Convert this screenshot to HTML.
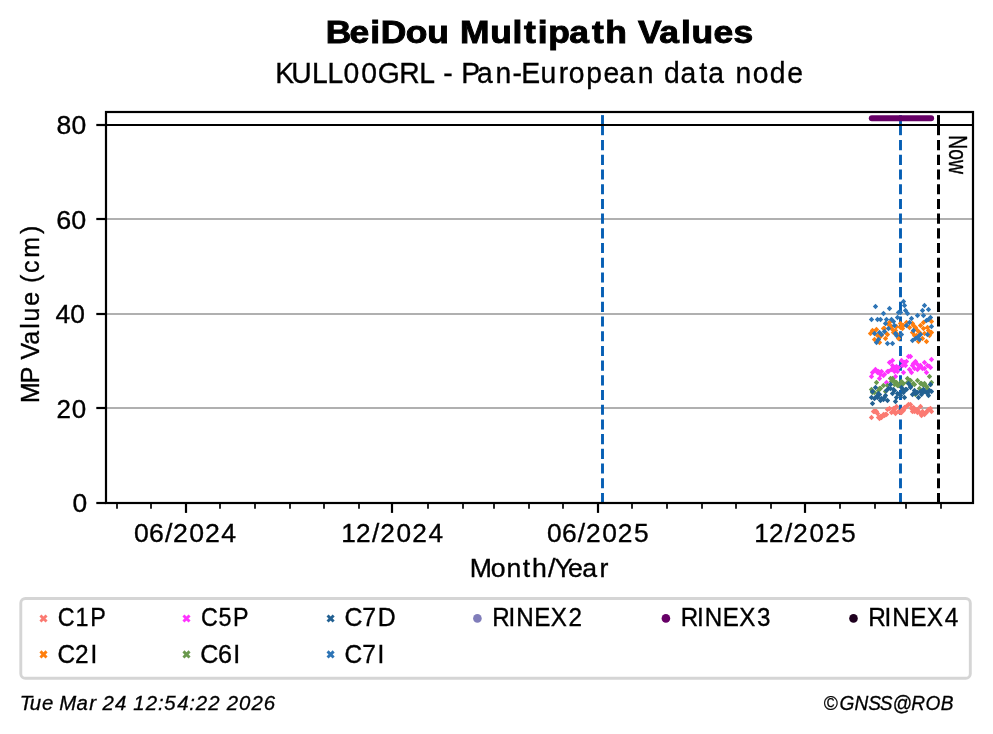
<!DOCTYPE html>
<html><head><meta charset="utf-8"><title>BeiDou Multipath Values</title>
<style>html,body{margin:0;padding:0;background:#fff;}body{width:993px;height:734px;overflow:hidden;font-family:"Liberation Sans",sans-serif;}svg{display:block;}text{font-family:"Liberation Sans",sans-serif;fill:#000;}svg{will-change:transform;}</style>
</head><body>
<svg width="993" height="734" viewBox="0 0 993 734">
<rect x="0" y="0" width="993" height="734" fill="#ffffff"/>
<text transform="translate(329.65,42.65) scale(1.1587,1)" x="-3.42 17.18 35.10 44.02 65.65 84.18 102.92 112.60 138.69 157.71 167.68 179.58 188.70 206.75 226.32 237.95 256.76 266.09 284.54 303.28 312.21 331.27 348.49" y="0" font-size="30.56" font-weight="bold" font-style="normal" stroke="#000" stroke-width="0.9" >BeiDou Multipath Values</text>
<text transform="translate(277.60,82.85) scale(0.9441,1)" x="-2.56 14.46 36.50 52.92 69.91 88.71 106.07 128.95 149.97 165.90 175.60 185.89 194.65 211.27 230.75 248.69 258.22 278.59 297.92 308.43 326.89 345.07 361.94 381.43 399.06 409.26 426.69 446.68 456.21 474.66 485.10 503.32 521.40 539.96" y="0" font-size="30.00" font-weight="normal" font-style="normal" stroke="#000" stroke-width="0.35" >KULL00GRL - Pan-European data node</text>
<line x1="106" x2="973" y1="408.00" y2="408.00" stroke="#b0b0b0" stroke-width="2.2"/>
<line x1="106" x2="973" y1="314.00" y2="314.00" stroke="#b0b0b0" stroke-width="2.2"/>
<line x1="106" x2="973" y1="219.00" y2="219.00" stroke="#b0b0b0" stroke-width="2.2"/>
<line x1="602.5" x2="602.5" y1="115.1" y2="135.2" stroke="#055eb4" stroke-width="2.9"/>
<line x1="602.5" x2="602.5" y1="140.1" y2="503" stroke="#055eb4" stroke-width="2.9" stroke-dasharray="10.1 4.6"/>
<line x1="900.5" x2="900.5" y1="115.1" y2="135.2" stroke="#055eb4" stroke-width="2.9"/>
<line x1="900.5" x2="900.5" y1="140.1" y2="503" stroke="#055eb4" stroke-width="2.9" stroke-dasharray="10.1 4.6"/>
<path d="M871.5 414.8L874.2 417.5L871.5 420.2L868.8 417.5ZM873.5 408.8L876.2 411.5L873.5 414.2L870.8 411.5ZM876.5 408.8L879.2 411.5L876.5 414.2L873.8 411.5ZM877.5 410.8L880.2 413.5L877.5 416.2L874.8 413.5ZM879.5 415.8L882.2 418.5L879.5 421.2L876.8 418.5ZM881.5 414.8L884.2 417.5L881.5 420.2L878.8 417.5ZM884.5 412.8L887.2 415.5L884.5 418.2L881.8 415.5ZM886.5 411.8L889.2 414.5L886.5 417.2L883.8 414.5ZM887.5 406.8L890.2 409.5L887.5 412.2L884.8 409.5ZM889.5 405.8L892.2 408.5L889.5 411.2L886.8 408.5ZM891.5 409.8L894.2 412.5L891.5 415.2L888.8 412.5ZM893.5 405.8L896.2 408.5L893.5 411.2L890.8 408.5ZM895.5 410.8L898.2 413.5L895.5 416.2L892.8 413.5ZM896.5 403.8L899.2 406.5L896.5 409.2L893.8 406.5ZM898.5 408.8L901.2 411.5L898.5 414.2L895.8 411.5ZM900.5 409.8L903.2 412.5L900.5 415.2L897.8 412.5ZM902.5 406.8L905.2 409.5L902.5 412.2L899.8 409.5ZM904.5 404.8L907.2 407.5L904.5 410.2L901.8 407.5ZM906.5 403.8L909.2 406.5L906.5 409.2L903.8 406.5ZM908.5 401.8L911.2 404.5L908.5 407.2L905.8 404.5ZM910.5 401.8L913.2 404.5L910.5 407.2L907.8 404.5ZM912.5 408.8L915.2 411.5L912.5 414.2L909.8 411.5ZM914.5 408.8L917.2 411.5L914.5 414.2L911.8 411.5ZM917.5 406.8L920.2 409.5L917.5 412.2L914.8 409.5ZM917.5 409.8L920.2 412.5L917.5 415.2L914.8 412.5ZM920.5 403.8L923.2 406.5L920.5 409.2L917.8 406.5ZM921.5 412.8L924.2 415.5L921.5 418.2L918.8 415.5ZM923.5 409.8L926.2 412.5L923.5 415.2L920.8 412.5ZM926.5 409.8L929.2 412.5L926.5 415.2L923.8 412.5ZM928.5 406.8L931.2 409.5L928.5 412.2L925.8 409.5ZM930.5 405.8L933.2 408.5L930.5 411.2L927.8 408.5ZM931.5 408.8L934.2 411.5L931.5 414.2L928.8 411.5ZM874.5 408.8L877.2 411.5L874.5 414.2L871.8 411.5ZM875.5 408.8L878.2 411.5L875.5 414.2L872.8 411.5ZM878.5 414.8L881.2 417.5L878.5 420.2L875.8 417.5ZM880.5 413.8L883.2 416.5L880.5 419.2L877.8 416.5ZM883.5 411.8L886.2 414.5L883.5 417.2L880.8 414.5ZM885.5 411.8L888.2 414.5L885.5 417.2L882.8 414.5ZM892.5 408.8L895.2 411.5L892.5 414.2L889.8 411.5ZM894.5 406.8L897.2 409.5L894.5 412.2L891.8 409.5ZM901.5 409.8L904.2 412.5L901.5 415.2L898.8 412.5ZM903.5 407.8L906.2 410.5L903.5 413.2L900.8 410.5ZM905.5 404.8L908.2 407.5L905.5 410.2L902.8 407.5ZM911.5 405.8L914.2 408.5L911.5 411.2L908.8 408.5ZM913.5 404.8L916.2 407.5L913.5 410.2L910.8 407.5ZM915.5 407.8L918.2 410.5L915.5 413.2L912.8 410.5ZM919.5 409.8L922.2 412.5L919.5 415.2L916.8 412.5ZM922.5 408.8L925.2 411.5L922.5 414.2L919.8 411.5ZM924.5 411.8L927.2 414.5L924.5 417.2L921.8 414.5ZM927.5 407.8L930.2 410.5L927.5 413.2L924.8 410.5ZM929.5 406.8L932.2 409.5L929.5 412.2L926.8 409.5Z" fill="#fb7a72"/>
<path d="M872.5 327.8L875.2 330.5L872.5 333.2L869.8 330.5ZM876.5 326.8L879.2 329.5L876.5 332.2L873.8 329.5ZM870.5 330.8L873.2 333.5L870.5 336.2L867.8 333.5ZM874.5 336.8L877.2 339.5L874.5 342.2L871.8 339.5ZM879.5 339.8L882.2 342.5L879.5 345.2L876.8 342.5ZM879.5 332.8L882.2 335.5L879.5 338.2L876.8 335.5ZM883.5 325.8L886.2 328.5L883.5 331.2L880.8 328.5ZM885.5 335.8L888.2 338.5L885.5 341.2L882.8 338.5ZM887.5 331.8L890.2 334.5L887.5 337.2L884.8 334.5ZM889.5 319.8L892.2 322.5L889.5 325.2L886.8 322.5ZM888.5 321.8L891.2 324.5L888.5 327.2L885.8 324.5ZM892.5 326.8L895.2 329.5L892.5 332.2L889.8 329.5ZM895.5 327.8L898.2 330.5L895.5 333.2L892.8 330.5ZM897.5 331.8L900.2 334.5L897.5 337.2L894.8 334.5ZM898.5 335.8L901.2 338.5L898.5 341.2L895.8 338.5ZM900.5 320.8L903.2 323.5L900.5 326.2L897.8 323.5ZM903.5 322.8L906.2 325.5L903.5 328.2L900.8 325.5ZM902.5 325.8L905.2 328.5L902.5 331.2L899.8 328.5ZM906.5 319.8L909.2 322.5L906.5 325.2L903.8 322.5ZM912.5 320.8L915.2 323.5L912.5 326.2L909.8 323.5ZM913.5 322.8L916.2 325.5L913.5 328.2L910.8 325.5ZM909.5 324.8L912.2 327.5L909.5 330.2L906.8 327.5ZM912.5 329.8L915.2 332.5L912.5 335.2L909.8 332.5ZM914.5 332.8L917.2 335.5L914.5 338.2L911.8 335.5ZM917.5 327.8L920.2 330.5L917.5 333.2L914.8 330.5ZM920.5 322.8L923.2 325.5L920.5 328.2L917.8 325.5ZM923.5 319.8L926.2 322.5L923.5 325.2L920.8 322.5ZM931.5 318.8L934.2 321.5L931.5 324.2L928.8 321.5ZM923.5 325.8L926.2 328.5L923.5 331.2L920.8 328.5ZM927.5 324.8L930.2 327.5L927.5 330.2L924.8 327.5ZM928.5 327.8L931.2 330.5L928.5 333.2L925.8 330.5ZM931.5 329.8L934.2 332.5L931.5 335.2L928.8 332.5ZM929.5 332.8L932.2 335.5L929.5 338.2L926.8 335.5ZM926.5 338.8L929.2 341.5L926.5 344.2L923.8 341.5ZM922.5 335.8L925.2 338.5L922.5 341.2L919.8 338.5ZM918.5 338.8L921.2 341.5L918.5 344.2L915.8 341.5ZM924.5 330.8L927.2 333.5L924.5 336.2L921.8 333.5ZM872.5 327.8L875.2 330.5L872.5 333.2L869.8 330.5ZM875.5 327.8L878.2 330.5L875.5 333.2L872.8 330.5ZM877.5 332.8L880.2 335.5L877.5 338.2L874.8 335.5ZM880.5 333.8L883.2 336.5L880.5 339.2L877.8 336.5ZM881.5 332.8L884.2 335.5L881.5 338.2L878.8 335.5ZM884.5 325.8L887.2 328.5L884.5 331.2L881.8 328.5ZM886.5 330.8L889.2 333.5L886.5 336.2L883.8 333.5ZM891.5 323.8L894.2 326.5L891.5 329.2L888.8 326.5ZM893.5 329.8L896.2 332.5L893.5 335.2L890.8 332.5ZM894.5 329.8L897.2 332.5L894.5 335.2L891.8 332.5ZM896.5 323.8L899.2 326.5L896.5 329.2L893.8 326.5ZM900.5 324.8L903.2 327.5L900.5 330.2L897.8 327.5ZM915.5 324.8L918.2 327.5L915.5 330.2L912.8 327.5ZM916.5 332.8L919.2 335.5L916.5 338.2L913.8 335.5ZM919.5 329.8L922.2 332.5L919.5 335.2L916.8 332.5Z" fill="#ff7f0e"/>
<path d="M871.5 373.8L874.2 376.5L871.5 379.2L868.8 376.5ZM875.5 366.8L878.2 369.5L875.5 372.2L872.8 369.5ZM878.5 368.8L881.2 371.5L878.5 374.2L875.8 371.5ZM881.5 368.8L884.2 371.5L881.5 374.2L878.8 371.5ZM879.5 375.8L882.2 378.5L879.5 381.2L876.8 378.5ZM883.5 372.8L886.2 375.5L883.5 378.2L880.8 375.5ZM886.5 379.8L889.2 382.5L886.5 385.2L883.8 382.5ZM888.5 368.8L891.2 371.5L888.5 374.2L885.8 371.5ZM884.5 371.8L887.2 374.5L884.5 377.2L881.8 374.5ZM889.5 359.8L892.2 362.5L889.5 365.2L886.8 362.5ZM892.5 357.8L895.2 360.5L892.5 363.2L889.8 360.5ZM892.5 362.8L895.2 365.5L892.5 368.2L889.8 365.5ZM895.5 366.8L898.2 369.5L895.5 372.2L892.8 369.5ZM895.5 373.8L898.2 376.5L895.5 379.2L892.8 376.5ZM897.5 368.8L900.2 371.5L897.5 374.2L894.8 371.5ZM898.5 364.8L901.2 367.5L898.5 370.2L895.8 367.5ZM901.5 357.8L904.2 360.5L901.5 363.2L898.8 360.5ZM902.5 362.8L905.2 365.5L902.5 368.2L899.8 365.5ZM903.5 369.8L906.2 372.5L903.5 375.2L900.8 372.5ZM905.5 362.8L908.2 365.5L905.5 368.2L902.8 365.5ZM906.5 358.8L909.2 361.5L906.5 364.2L903.8 361.5ZM908.5 353.8L911.2 356.5L908.5 359.2L905.8 356.5ZM910.5 353.8L913.2 356.5L910.5 359.2L907.8 356.5ZM909.5 366.8L912.2 369.5L909.5 372.2L906.8 369.5ZM912.5 362.8L915.2 365.5L912.5 368.2L909.8 365.5ZM911.5 369.8L914.2 372.5L911.5 375.2L908.8 372.5ZM914.5 365.8L917.2 368.5L914.5 371.2L911.8 368.5ZM915.5 358.8L918.2 361.5L915.5 364.2L912.8 361.5ZM918.5 362.8L921.2 365.5L918.5 368.2L915.8 365.5ZM917.5 366.8L920.2 369.5L917.5 372.2L914.8 369.5ZM920.5 362.8L923.2 365.5L920.5 368.2L917.8 365.5ZM924.5 359.8L927.2 362.5L924.5 365.2L921.8 362.5ZM922.5 365.8L925.2 368.5L922.5 371.2L919.8 368.5ZM926.5 369.8L929.2 372.5L926.5 375.2L923.8 372.5ZM927.5 362.8L930.2 365.5L927.5 368.2L924.8 365.5ZM930.5 364.8L933.2 367.5L930.5 370.2L927.8 367.5ZM931.5 356.8L934.2 359.5L931.5 362.2L928.8 359.5ZM872.5 369.8L875.2 372.5L872.5 375.2L869.8 372.5ZM874.5 367.8L877.2 370.5L874.5 373.2L871.8 370.5ZM876.5 368.8L879.2 371.5L876.5 374.2L873.8 371.5ZM877.5 369.8L880.2 372.5L877.5 375.2L874.8 372.5ZM880.5 371.8L883.2 374.5L880.5 377.2L877.8 374.5ZM887.5 368.8L890.2 371.5L887.5 374.2L884.8 371.5ZM891.5 366.8L894.2 369.5L891.5 372.2L888.8 369.5ZM893.5 365.8L896.2 368.5L893.5 371.2L890.8 368.5ZM894.5 368.8L897.2 371.5L894.5 374.2L891.8 371.5ZM896.5 363.8L899.2 366.5L896.5 369.2L893.8 366.5ZM904.5 359.8L907.2 362.5L904.5 365.2L901.8 362.5ZM913.5 360.8L916.2 363.5L913.5 366.2L910.8 363.5ZM916.5 360.8L919.2 363.5L916.5 366.2L913.8 363.5ZM919.5 364.8L922.2 367.5L919.5 370.2L916.8 367.5ZM921.5 364.8L924.2 367.5L921.5 370.2L918.8 367.5ZM924.5 365.8L927.2 368.5L924.5 371.2L921.8 368.5ZM929.5 363.8L932.2 366.5L929.5 369.2L926.8 366.5Z" fill="#ff33ff"/>
<path d="M871.5 386.8L874.2 389.5L871.5 392.2L868.8 389.5ZM874.5 389.8L877.2 392.5L874.5 395.2L871.8 392.5ZM876.5 379.8L879.2 382.5L876.5 385.2L873.8 382.5ZM880.5 385.8L883.2 388.5L880.5 391.2L877.8 388.5ZM883.5 382.8L886.2 385.5L883.5 388.2L880.8 385.5ZM885.5 388.8L888.2 391.5L885.5 394.2L882.8 391.5ZM890.5 375.8L893.2 378.5L890.5 381.2L887.8 378.5ZM892.5 375.8L895.2 378.5L892.5 381.2L889.8 378.5ZM895.5 379.8L898.2 382.5L895.5 385.2L892.8 382.5ZM897.5 382.8L900.2 385.5L897.5 388.2L894.8 385.5ZM901.5 378.8L904.2 381.5L901.5 384.2L898.8 381.5ZM903.5 380.8L906.2 383.5L903.5 386.2L900.8 383.5ZM907.5 375.8L910.2 378.5L907.5 381.2L904.8 378.5ZM910.5 377.8L913.2 380.5L910.5 383.2L907.8 380.5ZM913.5 380.8L916.2 383.5L913.5 386.2L910.8 383.5ZM917.5 377.8L920.2 380.5L917.5 383.2L914.8 380.5ZM920.5 380.8L923.2 383.5L920.5 386.2L917.8 383.5ZM923.5 382.8L926.2 385.5L923.5 388.2L920.8 385.5ZM926.5 383.8L929.2 386.5L926.5 389.2L923.8 386.5ZM929.5 373.8L932.2 376.5L929.5 379.2L926.8 376.5ZM931.5 379.8L934.2 382.5L931.5 385.2L928.8 382.5ZM915.5 391.8L918.2 394.5L915.5 397.2L912.8 394.5ZM872.5 389.8L875.2 392.5L872.5 395.2L869.8 392.5ZM878.5 387.8L881.2 390.5L878.5 393.2L875.8 390.5ZM879.5 385.8L882.2 388.5L879.5 391.2L876.8 388.5ZM887.5 382.8L890.2 385.5L887.5 388.2L884.8 385.5ZM891.5 378.8L894.2 381.5L891.5 384.2L888.8 381.5ZM893.5 377.8L896.2 380.5L893.5 383.2L890.8 380.5ZM894.5 381.8L897.2 384.5L894.5 387.2L891.8 384.5ZM896.5 379.8L899.2 382.5L896.5 385.2L893.8 382.5ZM898.5 382.8L901.2 385.5L898.5 388.2L895.8 385.5ZM900.5 381.8L903.2 384.5L900.5 387.2L897.8 384.5ZM902.5 381.8L905.2 384.5L902.5 387.2L899.8 384.5ZM907.5 379.8L910.2 382.5L907.5 385.2L904.8 382.5ZM909.5 381.8L912.2 384.5L909.5 387.2L906.8 384.5ZM912.5 381.8L915.2 384.5L912.5 387.2L909.8 384.5ZM914.5 381.8L917.2 384.5L914.5 387.2L911.8 384.5ZM919.5 385.8L922.2 388.5L919.5 391.2L916.8 388.5ZM921.5 380.8L924.2 383.5L921.5 386.2L918.8 383.5ZM924.5 380.8L927.2 383.5L924.5 386.2L921.8 383.5ZM927.5 385.8L930.2 388.5L927.5 391.2L924.8 388.5ZM930.5 381.8L933.2 384.5L930.5 387.2L927.8 384.5Z" fill="#6a994e"/>
<path d="M872.5 400.8L875.2 403.5L872.5 406.2L869.8 403.5ZM871.5 394.8L874.2 397.5L871.5 400.2L868.8 397.5ZM875.5 384.8L878.2 387.5L875.5 390.2L872.8 387.5ZM876.5 393.8L879.2 396.5L876.5 399.2L873.8 396.5ZM878.5 390.8L881.2 393.5L878.5 396.2L875.8 393.5ZM880.5 397.8L883.2 400.5L880.5 403.2L877.8 400.5ZM883.5 396.8L886.2 399.5L883.5 402.2L880.8 399.5ZM885.5 392.8L888.2 395.5L885.5 398.2L882.8 395.5ZM887.5 397.8L890.2 400.5L887.5 403.2L884.8 400.5ZM890.5 381.8L893.2 384.5L890.5 387.2L887.8 384.5ZM890.5 385.8L893.2 388.5L890.5 391.2L887.8 388.5ZM892.5 390.8L895.2 393.5L892.5 396.2L889.8 393.5ZM895.5 398.8L898.2 401.5L895.5 404.2L892.8 401.5ZM896.5 394.8L899.2 397.5L896.5 400.2L893.8 397.5ZM899.5 391.8L902.2 394.5L899.5 397.2L896.8 394.5ZM901.5 384.8L904.2 387.5L901.5 390.2L898.8 387.5ZM903.5 389.8L906.2 392.5L903.5 395.2L900.8 392.5ZM904.5 394.8L907.2 397.5L904.5 400.2L901.8 397.5ZM906.5 386.8L909.2 389.5L906.5 392.2L903.8 389.5ZM908.5 380.8L911.2 383.5L908.5 386.2L905.8 383.5ZM910.5 384.8L913.2 387.5L910.5 390.2L907.8 387.5ZM912.5 391.8L915.2 394.5L912.5 397.2L909.8 394.5ZM914.5 387.8L917.2 390.5L914.5 393.2L911.8 390.5ZM918.5 394.8L921.2 397.5L918.5 400.2L915.8 397.5ZM917.5 389.8L920.2 392.5L917.5 395.2L914.8 392.5ZM921.5 391.8L924.2 394.5L921.5 397.2L918.8 394.5ZM923.5 386.8L926.2 389.5L923.5 392.2L920.8 389.5ZM926.5 389.8L929.2 392.5L926.5 395.2L923.8 392.5ZM928.5 392.8L931.2 395.5L928.5 398.2L925.8 395.5ZM929.5 387.8L932.2 390.5L929.5 393.2L926.8 390.5ZM931.5 388.8L934.2 391.5L931.5 394.2L928.8 391.5ZM930.5 381.8L933.2 384.5L930.5 387.2L927.8 384.5ZM894.5 387.8L897.2 390.5L894.5 393.2L891.8 390.5ZM872.5 388.8L875.2 391.5L872.5 394.2L869.8 391.5ZM874.5 395.8L877.2 398.5L874.5 401.2L871.8 398.5ZM877.5 394.8L880.2 397.5L877.5 400.2L874.8 397.5ZM879.5 391.8L882.2 394.5L879.5 397.2L876.8 394.5ZM881.5 395.8L884.2 398.5L881.5 401.2L878.8 398.5ZM884.5 394.8L887.2 397.5L884.5 400.2L881.8 397.5ZM886.5 387.8L889.2 390.5L886.5 393.2L883.8 390.5ZM888.5 385.8L891.2 388.5L888.5 391.2L885.8 388.5ZM893.5 386.8L896.2 389.5L893.5 392.2L890.8 389.5ZM897.5 390.8L900.2 393.5L897.5 396.2L894.8 393.5ZM900.5 392.8L903.2 395.5L900.5 398.2L897.8 395.5ZM902.5 386.8L905.2 389.5L902.5 392.2L899.8 389.5ZM905.5 386.8L908.2 389.5L905.5 392.2L902.8 389.5ZM910.5 383.8L913.2 386.5L910.5 389.2L907.8 386.5ZM913.5 390.8L916.2 393.5L913.5 396.2L910.8 393.5ZM915.5 390.8L918.2 393.5L915.5 396.2L912.8 393.5ZM920.5 388.8L923.2 391.5L920.5 394.2L917.8 391.5ZM922.5 389.8L925.2 392.5L922.5 395.2L919.8 392.5ZM924.5 388.8L927.2 391.5L924.5 394.2L921.8 391.5ZM927.5 390.8L930.2 393.5L927.5 396.2L924.8 393.5Z" fill="#236192"/>
<path d="M875.5 303.8L878.2 306.5L875.5 309.2L872.8 306.5ZM871.5 316.8L874.2 319.5L871.5 322.2L868.8 319.5ZM877.5 316.8L880.2 319.5L877.5 322.2L874.8 319.5ZM880.5 316.8L883.2 319.5L880.5 322.2L877.8 319.5ZM883.5 310.8L886.2 313.5L883.5 316.2L880.8 313.5ZM889.5 305.8L892.2 308.5L889.5 311.2L886.8 308.5ZM886.5 316.8L889.2 319.5L886.5 322.2L883.8 319.5ZM885.5 320.8L888.2 323.5L885.5 326.2L882.8 323.5ZM891.5 316.8L894.2 319.5L891.5 322.2L888.8 319.5ZM893.5 318.8L896.2 321.5L893.5 324.2L890.8 321.5ZM894.5 322.8L897.2 325.5L894.5 328.2L891.8 325.5ZM888.5 325.8L891.2 328.5L888.5 331.2L885.8 328.5ZM884.5 328.8L887.2 331.5L884.5 334.2L881.8 331.5ZM879.5 329.8L882.2 332.5L879.5 335.2L876.8 332.5ZM881.5 331.8L884.2 334.5L881.5 337.2L878.8 334.5ZM874.5 330.8L877.2 333.5L874.5 336.2L871.8 333.5ZM878.5 336.8L881.2 339.5L878.5 342.2L875.8 339.5ZM876.5 339.8L879.2 342.5L876.5 345.2L873.8 342.5ZM887.5 340.8L890.2 343.5L887.5 346.2L884.8 343.5ZM892.5 340.8L895.2 343.5L892.5 346.2L889.8 343.5ZM895.5 330.8L898.2 333.5L895.5 336.2L892.8 333.5ZM896.5 332.8L899.2 335.5L896.5 338.2L893.8 335.5ZM897.5 314.8L900.2 317.5L897.5 320.2L894.8 317.5ZM898.5 309.8L901.2 312.5L898.5 315.2L895.8 312.5ZM900.5 309.8L903.2 312.5L900.5 315.2L897.8 312.5ZM903.5 298.8L906.2 301.5L903.5 304.2L900.8 301.5ZM904.5 302.8L907.2 305.5L904.5 308.2L901.8 305.5ZM905.5 307.8L908.2 310.5L905.5 313.2L902.8 310.5ZM907.5 310.8L910.2 313.5L907.5 316.2L904.8 313.5ZM911.5 315.8L914.2 318.5L911.5 321.2L908.8 318.5ZM909.5 319.8L912.2 322.5L909.5 325.2L906.8 322.5ZM906.5 322.8L909.2 325.5L906.5 328.2L903.8 325.5ZM901.5 331.8L904.2 334.5L901.5 337.2L898.8 334.5ZM913.5 327.8L916.2 330.5L913.5 333.2L910.8 330.5ZM917.5 312.8L920.2 315.5L917.5 318.2L914.8 315.5ZM922.5 307.8L925.2 310.5L922.5 313.2L919.8 310.5ZM924.5 302.8L927.2 305.5L924.5 308.2L921.8 305.5ZM928.5 306.8L931.2 309.5L928.5 312.2L925.8 309.5ZM923.5 312.8L926.2 315.5L923.5 318.2L920.8 315.5ZM930.5 314.8L933.2 317.5L930.5 320.2L927.8 317.5ZM926.5 317.8L929.2 320.5L926.5 323.2L923.8 320.5ZM928.5 316.8L931.2 319.5L928.5 322.2L925.8 319.5ZM931.5 323.8L934.2 326.5L931.5 329.2L928.8 326.5ZM927.5 331.8L930.2 334.5L927.5 337.2L924.8 334.5ZM920.5 331.8L923.2 334.5L920.5 337.2L917.8 334.5ZM918.5 333.8L921.2 336.5L918.5 339.2L915.8 336.5ZM915.5 335.8L918.2 338.5L915.5 341.2L912.8 338.5ZM912.5 337.8L915.2 340.5L912.5 343.2L909.8 340.5ZM919.5 336.8L922.2 339.5L919.5 342.2L916.8 339.5Z" fill="#2e75b6"/>
<line x1="871.8" x2="931.1" y1="118.3" y2="118.3" stroke="#660066" stroke-width="6.0" stroke-linecap="round"/>
<line x1="938.5" x2="938.5" y1="115.1" y2="135.2" stroke="#000000" stroke-width="3.0"/>
<line x1="938.5" x2="938.5" y1="140.1" y2="503" stroke="#000000" stroke-width="3.0" stroke-dasharray="10.1 4.6"/>
<line x1="106" x2="973" y1="125" y2="125" stroke="#000" stroke-width="2.2"/>
<text transform="translate(948.85,135.3) rotate(90)" x="0" y="0" font-size="25.1" textLength="38.6" lengthAdjust="spacingAndGlyphs" stroke="#000" stroke-width="0.4">Now</text>
<rect x="106" y="112" width="867" height="391" fill="none" stroke="#000" stroke-width="2.2"/>
<line x1="96.3" x2="106" y1="503.00" y2="503.00" stroke="#000" stroke-width="2.2"/>
<line x1="96.3" x2="106" y1="408.00" y2="408.00" stroke="#000" stroke-width="2.2"/>
<line x1="96.3" x2="106" y1="314.00" y2="314.00" stroke="#000" stroke-width="2.2"/>
<line x1="96.3" x2="106" y1="219.00" y2="219.00" stroke="#000" stroke-width="2.2"/>
<line x1="96.3" x2="106" y1="125.00" y2="125.00" stroke="#000" stroke-width="2.2"/>
<line x1="186.00" x2="186.00" y1="503" y2="512.9" stroke="#000" stroke-width="2.2"/>
<line x1="392.00" x2="392.00" y1="503" y2="512.9" stroke="#000" stroke-width="2.2"/>
<line x1="598.00" x2="598.00" y1="503" y2="512.9" stroke="#000" stroke-width="2.2"/>
<line x1="805.00" x2="805.00" y1="503" y2="512.9" stroke="#000" stroke-width="2.2"/>
<line x1="117.00" x2="117.00" y1="503" y2="508.8" stroke="#000" stroke-width="1.7"/>
<line x1="151.00" x2="151.00" y1="503" y2="508.8" stroke="#000" stroke-width="1.7"/>
<line x1="220.00" x2="220.00" y1="503" y2="508.8" stroke="#000" stroke-width="1.7"/>
<line x1="255.00" x2="255.00" y1="503" y2="508.8" stroke="#000" stroke-width="1.7"/>
<line x1="290.00" x2="290.00" y1="503" y2="508.8" stroke="#000" stroke-width="1.7"/>
<line x1="324.00" x2="324.00" y1="503" y2="508.8" stroke="#000" stroke-width="1.7"/>
<line x1="359.00" x2="359.00" y1="503" y2="508.8" stroke="#000" stroke-width="1.7"/>
<line x1="428.00" x2="428.00" y1="503" y2="508.8" stroke="#000" stroke-width="1.7"/>
<line x1="463.00" x2="463.00" y1="503" y2="508.8" stroke="#000" stroke-width="1.7"/>
<line x1="494.00" x2="494.00" y1="503" y2="508.8" stroke="#000" stroke-width="1.7"/>
<line x1="529.00" x2="529.00" y1="503" y2="508.8" stroke="#000" stroke-width="1.7"/>
<line x1="563.00" x2="563.00" y1="503" y2="508.8" stroke="#000" stroke-width="1.7"/>
<line x1="632.00" x2="632.00" y1="503" y2="508.8" stroke="#000" stroke-width="1.7"/>
<line x1="667.00" x2="667.00" y1="503" y2="508.8" stroke="#000" stroke-width="1.7"/>
<line x1="702.00" x2="702.00" y1="503" y2="508.8" stroke="#000" stroke-width="1.7"/>
<line x1="736.00" x2="736.00" y1="503" y2="508.8" stroke="#000" stroke-width="1.7"/>
<line x1="771.00" x2="771.00" y1="503" y2="508.8" stroke="#000" stroke-width="1.7"/>
<line x1="840.00" x2="840.00" y1="503" y2="508.8" stroke="#000" stroke-width="1.7"/>
<line x1="875.00" x2="875.00" y1="503" y2="508.8" stroke="#000" stroke-width="1.7"/>
<line x1="906.00" x2="906.00" y1="503" y2="508.8" stroke="#000" stroke-width="1.7"/>
<line x1="941.00" x2="941.00" y1="503" y2="508.8" stroke="#000" stroke-width="1.7"/>
<text transform="translate(57.60,133.90) scale(1.0361,1)" x="-1.09 13.33" y="0" font-size="25.60" font-weight="normal" font-style="normal" stroke="#000" stroke-width="0.35" >80</text>
<text transform="translate(57.60,228.90) scale(1.0499,1)" x="-1.19 13.06" y="0" font-size="25.60" font-weight="normal" font-style="normal" stroke="#000" stroke-width="0.35" >60</text>
<text transform="translate(56.00,322.90) scale(1.0318,1)" x="-0.59 13.90" y="0" font-size="25.60" font-weight="normal" font-style="normal" stroke="#000" stroke-width="0.35" >40</text>
<text transform="translate(57.80,417.90) scale(1.0146,1)" x="-1.39 13.64" y="0" font-size="25.60" font-weight="normal" font-style="normal" stroke="#000" stroke-width="0.35" >20</text>
<text transform="translate(73.60,511.90) scale(1.0317,1)" x="-1.00" y="0" font-size="25.60" font-weight="normal" font-style="normal" stroke="#000" stroke-width="0.35" >0</text>
<text transform="translate(135.20,541.90) scale(1.0406,1)" x="-1.05 13.27 28.60 36.42 52.04 67.06 82.72" y="0" font-size="25.60" font-weight="normal" font-style="normal" stroke="#000" stroke-width="0.35" >06/2024</text>
<text transform="translate(343.40,541.90) scale(1.0234,1)" x="-2.16 12.24 28.04 36.06 51.93 67.20 83.13" y="0" font-size="25.60" font-weight="normal" font-style="normal" stroke="#000" stroke-width="0.35" >12/2024</text>
<text transform="translate(548.00,541.90) scale(1.0309,1)" x="-1.00 13.47 28.90 36.84 52.60 67.76 83.36" y="0" font-size="25.60" font-weight="normal" font-style="normal" stroke="#000" stroke-width="0.35" >06/2025</text>
<text transform="translate(756.40,541.90) scale(1.0133,1)" x="-2.10 12.43 28.35 36.49 52.52 67.94 83.82" y="0" font-size="25.60" font-weight="normal" font-style="normal" stroke="#000" stroke-width="0.35" >12/2025</text>
<text transform="translate(472.50,577.10) scale(1.0404,1)" x="-2.67 17.63 32.63 48.37 57.22 72.46 78.81 91.73 105.51 121.97" y="0" font-size="25.60" font-weight="normal" font-style="normal" stroke="#000" stroke-width="0.35" >Month/Year</text>
<text transform="translate(38.90,401.00) rotate(-90) scale(0.9727,1)" x="-2.12 18.33 34.18 42.65 57.74 74.38 81.82 97.96 112.95 121.26 131.57 147.26 171.81" y="0" font-size="25.60" font-weight="normal" font-style="normal" stroke="#000" stroke-width="0.35" >MP Value (cm)</text>
<rect x="20.8" y="598.5" width="949.5" height="79.8" rx="4.6" ry="4.6" fill="#ffffff" stroke="#d5d5d5" stroke-width="2.9"/>
<path d="M40.45 615.45L46.55 621.55M40.45 621.55L46.55 615.45" stroke="#fb7a72" stroke-width="2.9" fill="none"/>
<text transform="translate(59.10,625.60) scale(0.9128,1)" x="-1.36 17.93 34.08" y="0" font-size="25.60" font-weight="normal" font-style="normal" stroke="#000" stroke-width="0.35" >C1P</text>
<path d="M40.45 651.35L46.55 657.45M40.45 657.45L46.55 651.35" stroke="#ff7f0e" stroke-width="2.9" fill="none"/>
<text transform="translate(59.10,662.70) scale(0.9521,1)" x="-1.69 16.71 32.94" y="0" font-size="25.60" font-weight="normal" font-style="normal" stroke="#000" stroke-width="0.35" >C2I</text>
<path d="M183.45 615.45L189.55 621.55M183.45 621.55L189.55 615.45" stroke="#ff33ff" stroke-width="2.9" fill="none"/>
<text transform="translate(202.10,625.60) scale(0.9098,1)" x="-1.33 17.91 34.09" y="0" font-size="25.60" font-weight="normal" font-style="normal" stroke="#000" stroke-width="0.35" >C5P</text>
<path d="M183.45 651.35L189.55 657.45M183.45 657.45L189.55 651.35" stroke="#6a994e" stroke-width="2.9" fill="none"/>
<text transform="translate(202.10,662.70) scale(0.9803,1)" x="-1.91 16.32 31.89" y="0" font-size="25.60" font-weight="normal" font-style="normal" stroke="#000" stroke-width="0.35" >C6I</text>
<path d="M327.55 615.45L333.65 621.55M327.55 621.55L333.65 615.45" stroke="#236192" stroke-width="2.9" fill="none"/>
<text transform="translate(346.20,625.60) scale(0.9721,1)" x="-1.85 16.40 32.56" y="0" font-size="25.60" font-weight="normal" font-style="normal" stroke="#000" stroke-width="0.35" >C7D</text>
<path d="M327.55 651.35L333.65 657.45M327.55 657.45L333.65 651.35" stroke="#2e75b6" stroke-width="2.9" fill="none"/>
<text transform="translate(346.20,662.70) scale(0.9570,1)" x="-1.73 16.77 32.62" y="0" font-size="25.60" font-weight="normal" font-style="normal" stroke="#000" stroke-width="0.35" >C7I</text>
<circle cx="477.4" cy="618.4" r="4.3" fill="#807dba"/>
<text transform="translate(494.30,625.60) scale(0.9458,1)" x="-2.20 15.08 23.26 42.24 59.69 78.33" y="0" font-size="25.60" font-weight="normal" font-style="normal" stroke="#000" stroke-width="0.35" >RINEX2</text>
<circle cx="665.9" cy="618.4" r="4.3" fill="#660066"/>
<text transform="translate(682.80,625.60) scale(0.9447,1)" x="-2.19 15.10 23.30 42.30 59.77 78.69" y="0" font-size="25.60" font-weight="normal" font-style="normal" stroke="#000" stroke-width="0.35" >RINEX3</text>
<circle cx="853.5" cy="618.4" r="4.3" fill="#1f001f"/>
<text transform="translate(870.40,625.60) scale(0.9527,1)" x="-2.25 14.94 23.03 41.87 59.20 78.02" y="0" font-size="25.60" font-weight="normal" font-style="normal" stroke="#000" stroke-width="0.35" >RINEX4</text>
<text transform="translate(21.30,710.30) scale(1.0240,1)" x="-1.57 8.22 20.16 31.42 36.97 53.90 66.25 73.17 79.29 91.53 103.32 109.40 121.52 133.62 139.73 152.20 164.14 170.48 182.56 194.51 200.63 212.71 224.80 236.84" y="0" font-size="19.91" font-weight="normal" font-style="italic" stroke="#000" stroke-width="0.3" >Tue Mar 24 12:54:22 2026</text>
<text transform="translate(823.80,709.50) scale(0.9600,1)" x="-0.33 16.33 32.03 46.42 58.40 71.66 91.15 106.01 121.93" y="0" font-size="19.91" font-weight="normal" font-style="italic" stroke="#000" stroke-width="0.3" >©GNSS@ROB</text>
</svg>
</body></html>
